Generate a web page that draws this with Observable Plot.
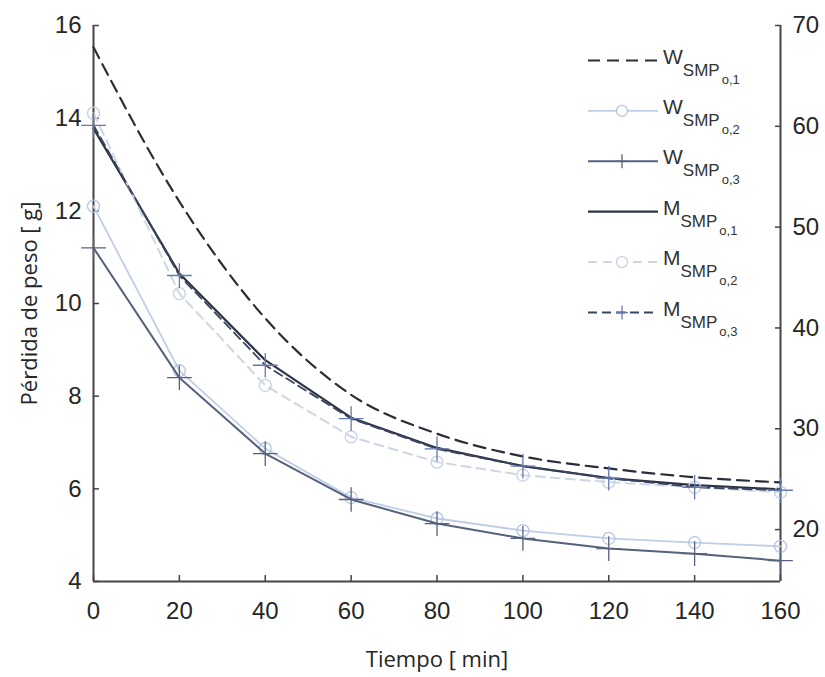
<!DOCTYPE html>
<html>
<head>
<meta charset="utf-8">
<script src="https://cdn.jsdelivr.net/npm/d3@7"></script>
<script src="https://cdn.jsdelivr.net/npm/@observablehq/plot@0.6"></script>
<style>
  body { margin: 0; background: #fff; }
  #wrap { position: relative; width: 825px; height: 677px; }
  #legend { position: absolute; left: 0; top: 0; pointer-events: none; }
</style>
</head>
<body>
<div id="wrap"></div>
<script>
// ---- data ----
const time = [0, 20, 40, 60, 80, 100, 120, 140, 160];
// W series: left axis (Pérdida de peso [g])
const W1 = [15.53, 12.2, 9.68, 8.03, 7.19, 6.70, 6.44, 6.25, 6.14];
const W2 = [12.1, 8.55, 6.87, 5.81, 5.36, 5.10, 4.93, 4.84, 4.76];
const W3 = [11.2, 8.40, 6.76, 5.77, 5.25, 4.93, 4.71, 4.60, 4.45];
// M series: right axis
const M1 = [59.8, 45.4, 36.8, 31.1, 28.1, 26.3, 25.1, 24.4, 24.0];
const M2 = [61.3, 43.4, 34.3, 29.2, 26.7, 25.4, 24.7, 24.2, 23.7];
const M3 = [60.1, 45.2, 36.3, 31.0, 28.0, 26.3, 25.1, 24.2, 23.9];

const seriesNames = ["W1", "W2", "W3", "M1", "M2", "M3"];
const legendMain = ["W", "W", "W", "M", "M", "M"];
const legendSub = "SMP";
const legendIdx = ["o,1", "o,2", "o,3", "o,1", "o,2", "o,3"];

const xTicks = [0, 20, 40, 60, 80, 100, 120, 140, 160];
const leftTicks = [4, 6, 8, 10, 12, 14, 16];
const rightTicks = [20, 30, 40, 50, 60, 70];
const xDomain = [0, 160];
const leftDomain = [4, 16];
const rightDomain = [14.85, 70];

const xLabel = "Tiempo [ min]";
const yLabel = "Pérdida de peso [ g]";

// ---- mapping right-axis values onto the left y scale ----
const k = (leftDomain[1] - leftDomain[0]) / (rightDomain[1] - rightDomain[0]);
const toLeft = r => leftDomain[0] + (r - rightDomain[0]) * k;
const toRight = l => rightDomain[0] + (l - leftDomain[0]) / k;

const seriesData = {W1, W2, W3, M1, M2, M3};
const seriesAxis = {W1: "left", W2: "left", W3: "left", M1: "right", M2: "right", M3: "right"};

const rows = [];
for (const name of seriesNames) {
  seriesData[name].forEach((val, i) => {
    rows.push({series: name, t: time[i], v: seriesAxis[name] === "left" ? val : toLeft(val)});
  });
}

// ---- styles ----
const styles = {
  W1: {stroke: "#2a2e3a", strokeWidth: 2.2, dash: "12,7", symbol: null, curve: "monotone-x"},
  W2: {stroke: "#bfcde6", strokeWidth: 1.8, dash: null, symbol: "circle", markStroke: "#b6c6e2", r: 6},
  W3: {stroke: "#56627c", strokeWidth: 2, dash: null, symbol: "plus", markStroke: "#56627c", r: 8},
  M1: {stroke: "#2e3445", strokeWidth: 2.2, dash: null, symbol: null},
  M2: {stroke: "#cdd6e4", strokeWidth: 2, dash: "9,6", symbol: "circle", markStroke: "#c5d1e4", r: 6},
  M3: {stroke: "#3b4560", strokeWidth: 1.8, dash: "9,5", symbol: "plus", markStroke: "#6479ad", r: 8}
};

const axisColor = "#444";
const textColor = "#262626";
const tickFont = "'Liberation Sans', Arial, sans-serif";
const titleFont = "'Open Sans', 'Noto Sans', sans-serif";

const marks = [];
// axis lines (no top line)
marks.push(Plot.ruleY([leftDomain[0]], {stroke: axisColor, strokeWidth: 2}));
marks.push(Plot.ruleX(xDomain, {stroke: axisColor, strokeWidth: 2}));

// inward ticks
marks.push(Plot.axisX(xTicks, {tickSize: 6, dy: -6, fill: "none", stroke: axisColor, strokeWidth: 1.5, label: null}));
marks.push(Plot.axisY(leftTicks, {anchor: "left", tickSize: 6, dx: 6, fill: "none", stroke: axisColor, strokeWidth: 1.5, label: null}));
marks.push(Plot.axisY(rightTicks.map(toLeft), {anchor: "right", tickSize: 6, dx: -6, fill: "none", stroke: axisColor, strokeWidth: 1.5, label: null}));

// tick labels
marks.push(Plot.axisX(xTicks, {tickSize: 0, tickPadding: 20, fontSize: 24, fontFamily: tickFont, fill: textColor, label: null}));
marks.push(Plot.axisY(leftTicks, {anchor: "left", tickSize: 0, tickPadding: 12, fontSize: 24, fontFamily: tickFont, fill: textColor, label: null}));
marks.push(Plot.axisY(rightTicks.map(toLeft), {anchor: "right", tickSize: 0, tickPadding: 12, fontSize: 24, fontFamily: tickFont, fill: textColor, label: null, tickFormat: d => String(Math.round(toRight(d)))}));

// axis titles
marks.push(Plot.axisX(xTicks, {tickSize: 0, tickFormat: () => "", label: xLabel, labelAnchor: "center", labelArrow: "none", labelOffset: 85, fontSize: 22, fontFamily: titleFont, fill: textColor}));
marks.push(Plot.axisY(leftTicks, {anchor: "left", tickSize: 0, tickFormat: () => "", label: yLabel, labelAnchor: "center", labelArrow: "none", labelOffset: 72, fontSize: 22, fontFamily: titleFont, fill: textColor}));

// series lines and markers
for (const name of seriesNames) {
  const s = styles[name];
  const d = rows.filter(r => r.series === name);
  marks.push(Plot.line(d, {x: "t", y: "v", stroke: s.stroke, strokeWidth: s.strokeWidth, strokeDasharray: s.dash || undefined, curve: s.curve || "linear"}));
  if (s.symbol) {
    marks.push(Plot.dot(d, {x: "t", y: "v", symbol: s.symbol, r: s.r, stroke: s.markStroke, fill: "none", strokeWidth: 1.3}));
  }
}

const chart = Plot.plot({
  width: 825,
  height: 677,
  marginTop: 25,
  marginBottom: 96,
  marginLeft: 93,
  marginRight: 45,
  style: {background: "#fff", color: textColor},
  x: {domain: xDomain, label: null},
  y: {domain: leftDomain, label: null},
  marks
});

const wrap = document.getElementById("wrap");
wrap.appendChild(chart);

// ---- legend (overlay inside the plot area, top right) ----
const ns = "http://www.w3.org/2000/svg";
const leg = document.createElementNS(ns, "svg");
leg.setAttribute("id", "legend");
leg.setAttribute("width", 825);
leg.setAttribute("height", 677);
const lx1 = 588, lx2 = 658, lmx = 622, ly0 = 60.5, lstep = 50.4, tx = 663;
seriesNames.forEach((name, i) => {
  const s = styles[name];
  const y = ly0 + i * lstep;
  const ln = document.createElementNS(ns, "line");
  ln.setAttribute("x1", lx1); ln.setAttribute("x2", lx2);
  ln.setAttribute("y1", y); ln.setAttribute("y2", y);
  ln.setAttribute("stroke", s.stroke);
  ln.setAttribute("stroke-width", s.strokeWidth);
  if (s.dash) ln.setAttribute("stroke-dasharray", s.dash);
  leg.appendChild(ln);
  if (s.symbol === "circle") {
    const c = document.createElementNS(ns, "circle");
    c.setAttribute("cx", lmx); c.setAttribute("cy", y); c.setAttribute("r", 5.5);
    c.setAttribute("fill", "#fff"); c.setAttribute("stroke", s.markStroke); c.setAttribute("stroke-width", 1.3);
    leg.appendChild(c);
  } else if (s.symbol === "plus") {
    const p = document.createElementNS(ns, "path");
    p.setAttribute("d", `M${lmx - 6},${y}H${lmx + 6}M${lmx},${y - 7}V${y + 7}`);
    p.setAttribute("stroke", s.markStroke); p.setAttribute("stroke-width", 1.3); p.setAttribute("fill", "none");
    leg.appendChild(p);
  }
  const t = document.createElementNS(ns, "text");
  t.setAttribute("x", tx); t.setAttribute("y", y + 3);
  t.setAttribute("font-family", tickFont);
  t.setAttribute("font-size", 21);
  t.setAttribute("fill", "#333");
  t.textContent = legendMain[i];
  const sub = document.createElementNS(ns, "tspan");
  sub.setAttribute("dy", 12); sub.setAttribute("font-size", 17);
  sub.textContent = legendSub;
  const sub2 = document.createElementNS(ns, "tspan");
  sub2.setAttribute("dy", 8); sub2.setAttribute("dx", 2); sub2.setAttribute("font-size", 13);
  sub2.textContent = legendIdx[i];
  t.appendChild(sub); t.appendChild(sub2);
  leg.appendChild(t);
});
wrap.appendChild(leg);
</script>
</body>
</html>
